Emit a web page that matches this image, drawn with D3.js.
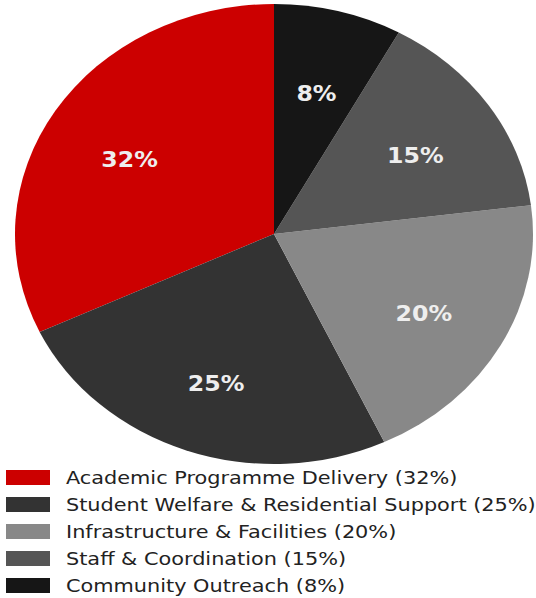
<!DOCTYPE html>
<html>
<head>
<meta charset="utf-8">
<script src="https://cdn.jsdelivr.net/npm/d3@7"></script>
<style>
  html, body { margin: 0; padding: 0; background: #fff; }
  svg { display: block; }
</style>
</head>
<body>
<svg id="chart" width="536" height="598"></svg>
<script>
// Budget allocation shares
const categories = [
  "Academic Programme Delivery",
  "Student Welfare & Residential Support",
  "Infrastructure & Facilities",
  "Staff & Coordination",
  "Community Outreach"
];
const values = [32, 25, 20, 15, 8];
const colors = ["#cc0000", "#333333", "#888888", "#555555", "#161616"];

const W = 536, H = 598;
const cx = 274, cy = 234;
const ry = 230;            // vertical radius
const sx = 259 / 230;      // horizontal stretch of the whole drawing
const svg = d3.select("#chart");

const data = categories.map((c, i) => ({ name: c, value: values[i], color: colors[i] }));

// Slices run counter-clockwise from 12 o'clock, in data order
const pie = d3.pie()
  .sort(null)
  .value(d => d.value)
  .startAngle(0)
  .endAngle(-2 * Math.PI);

const arcs = pie(data);
const arc = d3.arc().innerRadius(0).outerRadius(ry);
const labelArc = d3.arc().innerRadius(ry * 0.66).outerRadius(ry * 0.66);

const g = svg.append("g")
  .attr("transform", `translate(${cx},${cy}) scale(${sx},1)`);

g.selectAll("path.slice")
  .data(arcs)
  .join("path")
  .attr("class", "slice")
  .attr("d", arc)
  .attr("fill", d => d.data.color);

g.selectAll("text.pct")
  .data(arcs)
  .join("text")
  .attr("class", "pct")
  .attr("x", d => labelArc.centroid(d)[0])
  .attr("y", d => labelArc.centroid(d)[1])
  .attr("dy", "0.66em")
  .attr("text-anchor", "middle")
  .attr("font-family", "DejaVu Sans, sans-serif")
  .attr("font-weight", "bold")
  .attr("font-size", 21)
  .attr("fill", "#eeeeee")
  .text(d => `${d.data.value}%`);

// Legend
const legend = svg.append("g")
  .attr("transform", `translate(0,470) scale(${sx},1)`);

const rowStep = 27;
const rows = legend.selectAll("g.row")
  .data(data)
  .join("g")
  .attr("class", "row")
  .attr("transform", (d, i) => `translate(0,${i * rowStep})`);

rows.append("rect")
  .attr("x", 6 / sx)
  .attr("y", 0)
  .attr("width", 44 / sx)
  .attr("height", 15)
  .attr("fill", d => d.color);

rows.append("text")
  .attr("x", 66 / sx)
  .attr("y", 7.5)
  .attr("dy", "0.36em")
  .attr("font-family", "DejaVu Sans, sans-serif")
  .attr("font-size", 18.5)
  .attr("fill", "#222222")
  .text(d => `${d.name} (${d.value}%)`);
</script>
</body>
</html>
